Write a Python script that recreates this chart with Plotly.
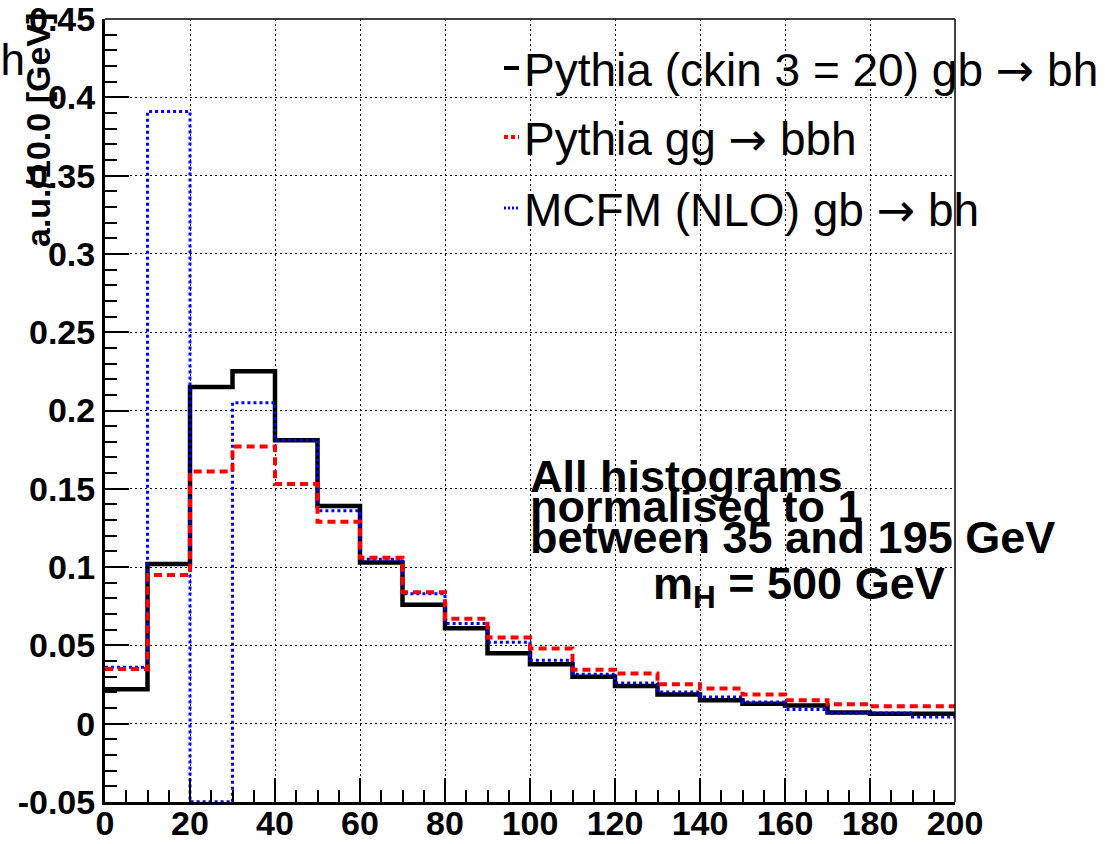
import plotly.graph_objects as go

# ---------------- data ----------------
bin_edges = list(range(0, 201, 10))
pythia_ckin = [0.022, 0.102, 0.215, 0.225, 0.181, 0.139, 0.103, 0.076, 0.061, 0.045,
               0.038, 0.030, 0.024, 0.0186, 0.015, 0.0128, 0.0117, 0.0071, 0.0064, 0.0064]
pythia_gg = [0.035, 0.095, 0.161, 0.177, 0.153, 0.129, 0.106, 0.084, 0.067, 0.055,
             0.048, 0.0345, 0.032, 0.0252, 0.0224, 0.0186, 0.0149, 0.0124, 0.0111, 0.0111]
mcfm_nlo = [0.036, 0.391, -0.0499, 0.205, 0.181, 0.136, 0.105, 0.083, 0.064, 0.052,
            0.0405, 0.0315, 0.026, 0.0203, 0.017, 0.0139, 0.009, 0.0068, 0.0068, 0.0043]

ARROW = '<span style="font-family:DejaVu Sans">\u2192</span>'
series_names = ["Pythia (ckin 3 = 20) gb " + ARROW + " bh",
                "Pythia gg " + ARROW + " bbh",
                "MCFM (NLO) gb " + ARROW + " bh"]
y_ticks = [-0.05, 0, 0.05, 0.1, 0.15, 0.2, 0.25, 0.3, 0.35, 0.4, 0.45]
y_tick_labels = ["-0.05", "0", "0.05", "0.1", "0.15", "0.2", "0.25", "0.3", "0.35", "0.4", "0.45"]
x_ticks = list(range(0, 201, 20))

FONT = "Liberation Sans, Arial, sans-serif"

# plot-area geometry in pixels (for placing texts)
L, R, T, B = 105, 955, 19, 802
W, H = 1105, 844


def px(x):
    return (x - L) / (R - L)


def py(y):
    return (B - y) / (B - T)


def step(vals):
    return bin_edges, list(vals) + [vals[-1]]


fig = go.Figure()
styles = [
    (pythia_ckin, "black", 4.5, "solid", 0),
    (mcfm_nlo, "blue", 3, "3px,3px", 2),
    (pythia_gg, "red", 4, "8px,5px", 1),
]
for vals, col, w, dash, k in styles:
    xs, ys = step(vals)
    fig.add_trace(go.Scatter(x=xs, y=ys, mode="lines", line=dict(color=col, width=w, dash=dash, shape="hv"),
                             name=series_names[k], showlegend=False, hoverinfo="skip"))

fig.update_layout(
    width=W, height=H,
    margin=dict(l=L, r=W - R, t=T, b=H - B),
    paper_bgcolor="white", plot_bgcolor="white",
    showlegend=False,
    font=dict(family=FONT, color="black"),
)
fig.update_xaxes(
    range=[0, 200], tickvals=x_ticks, ticks="inside", ticklen=24, tickwidth=1.5, tickcolor="black",
    minor=dict(ticks="inside", ticklen=12, dtick=5, tickwidth=1.5, tickcolor="black", showgrid=False),
    showgrid=True, gridcolor="black", gridwidth=1, griddash="2px,3px",
    showline=True, linecolor="black", linewidth=3, zeroline=False, automargin=False,
    ticklabeloverflow="allow", ticklabelstandoff=-11,
    tickfont=dict(family=FONT, size=34, weight="bold", color="black"),
)
fig.update_yaxes(
    range=[-0.05, 0.45], tickvals=y_ticks, ticktext=y_tick_labels, ticks="inside", ticklen=24,
    tickwidth=1.5, tickcolor="black",
    minor=dict(ticks="inside", ticklen=12, dtick=0.01, tick0=0, tickwidth=1.5, tickcolor="black", showgrid=False),
    showgrid=True, gridcolor="black", gridwidth=1, griddash="2px,3px",
    showline=True, linecolor="black", linewidth=3, zeroline=False, automargin=False,
    ticklabeloverflow="allow",
    tickfont=dict(family=FONT, size=34, weight="bold", color="black"),
)

# thin top/right frame
fig.add_shape(type="line", xref="paper", yref="paper", x0=0, x1=1, y0=1, y1=1, line=dict(color="black", width=1.5))
fig.add_shape(type="line", xref="paper", yref="paper", x0=1, x1=1, y0=0, y1=1, line=dict(color="black", width=1.5))

# y-axis title
fig.add_annotation(text="<b>a.u./10.0 [GeV]</b>", xref="paper", yref="paper", x=px(38), y=py(130),
                   textangle=-90, showarrow=False, font=dict(family=FONT, size=34, color="black"),
                   xanchor="center", yanchor="middle")

# clipped text at top-left
fig.add_annotation(text="bh", xref="paper", yref="paper", x=px(27), y=py(60), showarrow=False,
                   xanchor="right", yanchor="middle", font=dict(family=FONT, size=44, color="black"))

# legend (manual)
leg_y = [68, 137, 208]
leg_styles = [("black", 4, "solid"), ("red", 4, "4px,3px"), ("blue", 3, "2px,2px")]
for (col, w, dash), yy, name in zip(leg_styles, leg_y, series_names):
    fig.add_shape(type="line", xref="paper", yref="paper", x0=px(504), x1=px(519), y0=py(yy), y1=py(yy),
                  line=dict(color=col, width=w, dash=dash))
    fig.add_annotation(text=name, xref="paper", yref="paper", x=px(522), y=py(yy + 2), showarrow=False,
                       xanchor="left", yanchor="middle", font=dict(family=FONT, size=46, color="black"))

# note text
note_lines = ["All histograms", "normalised to 1", "between 35 and 195 GeV"]
note_y = [476, 506, 537]
for t, yy in zip(note_lines, note_y):
    fig.add_annotation(text="<b>" + t + "</b>", xref="paper", yref="paper", x=px(528), y=py(yy),
                       showarrow=False, xanchor="left", yanchor="middle",
                       font=dict(family=FONT, size=45, color="black"))
fig.add_annotation(text="<b>m<sub>H</sub> = 500 GeV</b>", xref="paper", yref="paper", x=px(947), y=py(586),
                   showarrow=False, xanchor="right", yanchor="middle",
                   font=dict(family=FONT, size=45, color="black"))

fig.write_html("out.html")
